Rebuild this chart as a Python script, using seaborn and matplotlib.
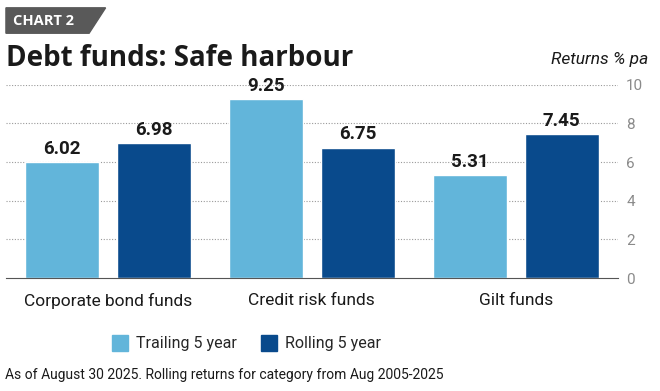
import matplotlib
matplotlib.use("Agg")
import matplotlib.pyplot as plt
import matplotlib.patches as mpatches
import pandas as pd
import seaborn as sns

categories = ["Corporate bond funds", "Credit risk funds", "Gilt funds"]
series = ["Trailing 5 year", "Rolling 5 year"]
trailing = [6.02, 9.25, 5.31]
rolling = [6.98, 6.75, 7.45]
yticks = [0, 2, 4, 6, 8, 10]

colors = {"Trailing 5 year": "#62b5da", "Rolling 5 year": "#094a8c"}

df = pd.DataFrame({
    "category": categories * 2,
    "series": [series[0]] * 3 + [series[1]] * 3,
    "value": trailing + rolling,
})

sns.set_theme(style="white")
plt.rcParams["font.family"] = ["Roboto", "DejaVu Sans"]

fig = plt.figure(figsize=(6.6, 3.91), dpi=100)
ax = fig.add_axes([0.009, 0.289, 0.927, 0.494])

sns.barplot(data=df, x="category", y="value", hue="series", order=categories,
            hue_order=series, palette=colors, width=0.9, gap=0.19,
            saturation=1, legend=False, ax=ax)

for cont in ax.containers:
    ax.bar_label(cont, fmt="%.2f", padding=3, fontsize=13.5, fontweight="bold",
                 color="#1a1a1a", clip_on=False)

ax.set_ylim(0, 10)
ax.set_xlim(-0.49, 2.5)
ax.set_yticks(yticks)
ax.yaxis.tick_right()
ax.tick_params(axis="y", length=0, labelsize=11, labelcolor="#8a8a8a", pad=6)
ax.tick_params(axis="x", length=0, labelsize=12.5, labelcolor="#1a1a1a", pad=11)
ax.set_xticks([-0.5, 0.5, 1.5, 2.5], minor=True)
ax.tick_params(axis="x", which="minor", direction="in", length=3, color="#555555", width=0.8)
ax.set_xlabel("")
ax.set_ylabel("")
for y in yticks[1:]:
    ax.axhline(y, color="#9a9a9a", lw=0.8, ls=(0, (1, 1.5)), zorder=0)
for s in ["top", "left", "right"]:
    ax.spines[s].set_visible(False)
ax.spines["bottom"].set_color("#555555")
ax.spines["bottom"].set_linewidth(0.8)
ax.set_axisbelow(True)

# header
tag = mpatches.Polygon([(0.009, 0.915), (0.135, 0.915), (0.16, 0.98), (0.009, 0.98)],
                       closed=True, transform=fig.transFigure, color="#595959")
fig.patches.append(tag)
fig.text(0.02, 0.947, "CHART 2", color="white", fontsize=10.5, fontweight="bold",
         va="center", family=["Open Sans", "DejaVu Sans"])
fig.text(0.009, 0.85, "Debt funds: Safe harbour", fontsize=20, fontweight="bold",
         va="center", color="#1a1a1a", family=["Open Sans", "DejaVu Sans"])
fig.text(0.982, 0.848, "Returns % pa", fontsize=12.5, style="italic", ha="right",
         va="center", color="#1a1a1a")

handles = [mpatches.Patch(color=colors[s], label=s) for s in series]
fig.legend(handles=handles, loc="center", bbox_to_anchor=(0.373, 0.122), ncol=2,
           frameon=False, fontsize=11.5, handlelength=1.0, handleheight=1.1,
           columnspacing=1.5, handletextpad=0.5)

fig.text(0.008, 0.04, "As of August 30 2025. Rolling returns for category from Aug 2005-2025",
         fontsize=10, va="center", color="#1a1a1a")

fig.savefig("out.png", dpi=100)
